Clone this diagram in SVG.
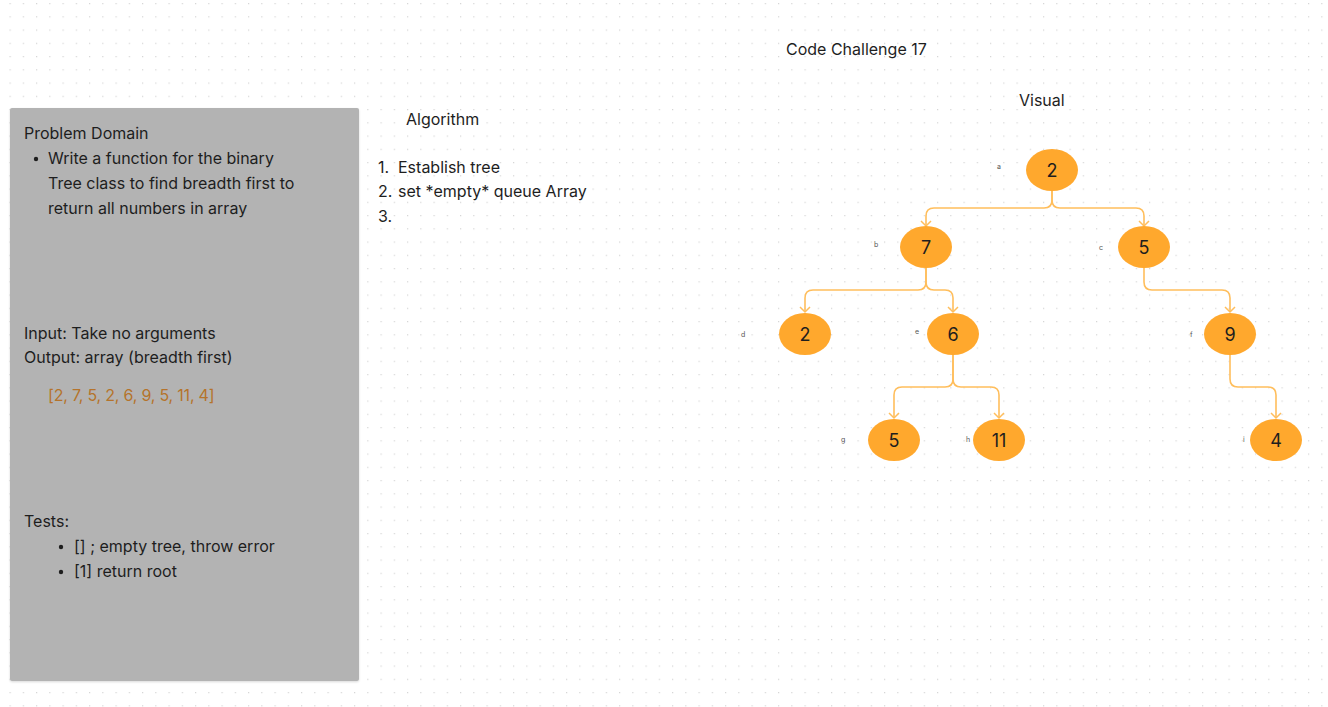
<svg xmlns="http://www.w3.org/2000/svg" width="1328" height="707" viewBox="0 0 1328 707">
<defs>
<pattern id="dots" x="9.5" y="3" width="13.25" height="13.25" patternUnits="userSpaceOnUse">
<rect x="0" y="0" width="1.2" height="1.2" fill="#d4d4d4"/>
</pattern>
<marker id="arr" viewBox="0 0 12 12" refX="10" refY="6" markerWidth="12" markerHeight="12" markerUnits="userSpaceOnUse" orient="auto">
<path d="M5,1 L10,6 L5,11" fill="none" stroke="#ffbe5c" stroke-width="1.5"/>
</marker>
<filter id="sh" x="-5%" y="-5%" width="110%" height="110%">
<feDropShadow dx="0" dy="1" stdDeviation="1" flood-color="#000" flood-opacity="0.15"/>
</filter>
</defs>
<style>
text{font-family:Inter,"Noto Sans","Liberation Sans",sans-serif;fill:#1e1e1e}
.t{font-size:16px}
.n{font-size:18px;text-anchor:middle}
.l{font-size:7px;fill:#555}
.node{fill:#ffa82d}
.conn path{fill:none;stroke:#ffbe5c;stroke-width:1.6}
</style>
<rect width="1328" height="707" fill="#ffffff"/>
<rect width="1328" height="707" fill="url(#dots)"/>

<g id="panel">
<rect x="10" y="108" width="349" height="573" rx="2" fill="#b3b3b3" filter="url(#sh)"/>
<text class="t" x="24" y="139">Problem Domain</text>
<circle cx="36" cy="159" r="2.2" fill="#1e1e1e"/>
<text class="t" x="48" y="164">Write a function for the binary</text>
<text class="t" x="48" y="189">Tree class to find breadth first to</text>
<text class="t" x="48" y="214">return all numbers in array</text>
<text class="t" x="24" y="339">Input: Take no arguments</text>
<text class="t" x="24" y="363">Output: array (breadth first)</text>
<text class="t" x="48" y="401" style="fill:#b5732b;letter-spacing:-0.2px">[2, 7, 5, 2, 6, 9, 5, 11, 4]</text>
<text class="t" x="24" y="527">Tests:</text>
<circle cx="61" cy="547" r="2.2" fill="#1e1e1e"/>
<text class="t" x="74" y="552">[] ; empty tree, throw error</text>
<circle cx="61" cy="572" r="2.2" fill="#1e1e1e"/>
<text class="t" x="74" y="577">[1] return root</text>
</g>

<g id="title"><text class="t" x="786" y="55">Code Challenge 17</text></g>
<g id="visual"><text class="t" x="1019" y="106">Visual</text></g>
<g id="algorithm">
<text class="t" x="406" y="125">Algorithm</text>
<text class="t" x="378" y="173">1.</text><text class="t" x="398" y="173">Establish tree</text>
<text class="t" x="378" y="197">2.</text><text class="t" x="398" y="197">set *empty* queue Array</text>
<text class="t" x="378" y="222">3.</text>
</g>

<g class="conn" id="connectors">
<path d="M1052,191 V200 Q1052,208 1044,208 H934 Q926,208 926,216 V226" marker-end="url(#arr)"/>
<path d="M1052,191 V200 Q1052,208 1060,208 H1136 Q1144,208 1144,216 V226" marker-end="url(#arr)"/>
<path d="M926,268 V282 Q926,290 918,290 H813 Q805,290 805,298 V312" marker-end="url(#arr)"/>
<path d="M926,268 V282 Q926,290 934,290 H945 Q953,290 953,298 V312" marker-end="url(#arr)"/>
<path d="M1144,268 V282 Q1144,290 1152,290 H1222 Q1230,290 1230,298 V312" marker-end="url(#arr)"/>
<path d="M953,355 V379 Q953,387 945,387 H902 Q894,387 894,395 V418" marker-end="url(#arr)"/>
<path d="M953,355 V379 Q953,387 961,387 H991 Q999,387 999,395 V418" marker-end="url(#arr)"/>
<path d="M1230,355 V379 Q1230,387 1238,387 H1268 Q1276,387 1276,395 V418" marker-end="url(#arr)"/>
</g>

<g id="node-a"><ellipse class="node" cx="1052" cy="170" rx="26" ry="21"/><text class="n" x="1052" y="177">2</text><text class="l" x="997" y="169">a</text></g>
<g id="node-b"><ellipse class="node" cx="926" cy="247" rx="26" ry="21"/><text class="n" x="926" y="254">7</text><text class="l" x="874" y="247">b</text></g>
<g id="node-c"><ellipse class="node" cx="1144" cy="247" rx="26" ry="21"/><text class="n" x="1144" y="254">5</text><text class="l" x="1099" y="250">c</text></g>
<g id="node-d"><ellipse class="node" cx="805" cy="334" rx="26" ry="21"/><text class="n" x="805" y="341">2</text><text class="l" x="741" y="337">d</text></g>
<g id="node-e"><ellipse class="node" cx="953" cy="334" rx="26" ry="21"/><text class="n" x="953" y="341">6</text><text class="l" x="915" y="334">e</text></g>
<g id="node-f"><ellipse class="node" cx="1230" cy="334" rx="26" ry="21"/><text class="n" x="1230" y="341">9</text><text class="l" x="1190" y="337">f</text></g>
<g id="node-g"><ellipse class="node" cx="894" cy="440" rx="26" ry="21"/><text class="n" x="894" y="447">5</text><text class="l" x="841" y="442">g</text></g>
<g id="node-h"><ellipse class="node" cx="999" cy="440" rx="26" ry="21"/><text class="n" x="999" y="447">11</text><text class="l" x="966" y="442">h</text></g>
<g id="node-i"><ellipse class="node" cx="1276" cy="440" rx="26" ry="21"/><text class="n" x="1276" y="447">4</text><text class="l" x="1243" y="442">i</text></g>
</svg>
